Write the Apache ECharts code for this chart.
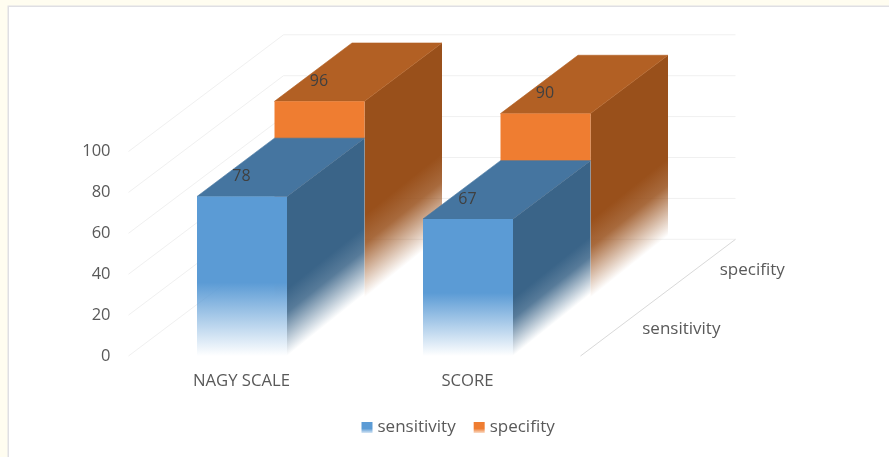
<!DOCTYPE html>
<html>
<head>
<meta charset="utf-8">
<style>html,body{margin:0;padding:0;background:#fffdf0}#c{width:889px;height:457px}</style>
<script src="https://cdn.jsdelivr.net/npm/echarts@6/dist/echarts.min.js"></script>
</head>
<body>
<div id="c"></div>
<script>
const categories = ['NAGY SCALE', 'SCORE'];
const sensitivity = [78, 67];
const specifity = [96, 90];
const depthLabels = ['sensitivity', 'specifity'];
const valueTicks = [0, 20, 40, 60, 80, 100];

// Oblique projection: moving from the front plane to the back wall shifts a point by this much.
const DEPTH_DX = 155;
const DEPTH_DY = 116.7;
const BAR_RATIO = 0.398;
const FADE_SLOPE = 0.8;
const FONT = '"Open Sans", sans-serif';
const TEXT = '#595959';

function project(p, d) {
  return [p[0] + DEPTH_DX * d, p[1] - DEPTH_DY * d];
}

function rgba(c, a) {
  return 'rgba(' + c.join(',') + ',' + a + ')';
}

// Fades a colour out towards (x2,y2); alphaStops shape the ramp.
function fade(c, x, y, x2, y2, alphaStops) {
  return {
    type: 'linear', global: true, x: x, y: y, x2: x2, y2: y2,
    colorStops: alphaStops.map(s => ({ offset: s[0], color: rgba(c, s[1]) }))
  };
}

function barRenderer(slot, palette, underlay) {
  return function (params, api) {
    const cat = api.value(0);
    const val = api.value(1);
    const top = api.coord([cat, val]);
    const base = api.coord([cat, 0]);
    const w = Math.round(api.size([1, 0])[0] * BAR_RATIO);
    const d0 = slot * 0.5;
    const d1 = d0 + 0.5;
    const l = Math.round(top[0] - w / 2);
    const r = l + w;
    const h = base[1] - top[1];
    const fadeFront = h * 0.46;
    const fadeSide = h * 0.42;

    const pt = (x, y, d) => project([x, y], d);
    const ftl = pt(l, top[1], d0), ftr = pt(r, top[1], d0);
    const fbl = pt(l, base[1], d0), fbr = pt(r, base[1], d0);
    const btl = pt(l, top[1], d1), btr = pt(r, top[1], d1);
    const bbr = pt(r, base[1], d1);

    // Side fade is tilted along the receding floor edge.
    const len = Math.hypot(1, FADE_SLOPE);
    const nx = FADE_SLOPE / len, ny = 1 / len;
    const reach = fadeSide * ny;
    const sideFill = fade(
      palette.side,
      fbr[0] - nx * reach, fbr[1] - ny * reach, fbr[0], fbr[1],
      [[0, 1], [0.35, 0.85], [1, 0]]
    );

    const children = [];
    if (underlay) {
      children.push({
        type: 'polygon', shape: { points: [ftr, btr, bbr, fbr] },
        style: { fill: '#fff' }
      });
    }
    children.push(
      {
        type: 'polygon', shape: { points: [ftr, btr, bbr, fbr] },
        style: { fill: sideFill }
      },
      {
        type: 'polygon', shape: { points: [ftl, btl, btr, ftr] },
        style: { fill: rgba(palette.top, 1), stroke: rgba(palette.top, 1), lineWidth: 0.6 }
      },
      {
        type: 'polygon', shape: { points: [ftl, ftr, fbr, fbl] },
        style: { fill: fade(palette.front, l, fbl[1] - fadeFront, l, fbl[1], [[0, 1], [1, 0]]) }
      },
      {
        type: 'text',
        style: {
          text: String(val), x: top[0] + DEPTH_DX * d0, y: ftl[1] - 20,
          align: 'center', verticalAlign: 'middle',
          fill: '#404040', font: '16px ' + FONT
        }
      }
    );
    return { type: 'group', children: children };
  };
}

function renderGridLine(params, api) {
  const box = params.coordSys;
  const v = api.value(1);
  const front = api.coord([0, v])[1];
  const a = [box.x, front];
  const b = project(a, 1);
  const c = [box.x + box.width + DEPTH_DX, b[1]];
  return {
    type: 'polyline', shape: { points: [a, b, c] },
    style: { stroke: '#f0f0f0', lineWidth: 1, fill: null }
  };
}

function renderFloorEdge(params, api) {
  const box = params.coordSys;
  const y = api.coord([0, 0])[1];
  const a = [box.x + box.width, y];
  return {
    type: 'line',
    shape: { x1: a[0], y1: a[1], x2: a[0] + DEPTH_DX, y2: a[1] - DEPTH_DY },
    style: { stroke: '#d9d9d9', lineWidth: 1 }
  };
}

function renderDepthLabel(params, api) {
  const box = params.coordSys;
  const y = api.coord([0, 0])[1];
  const p = project([box.x + box.width, y], (params.dataIndex + 0.5) / depthLabels.length);
  return {
    type: 'text',
    style: {
      text: depthLabels[params.dataIndex], x: p[0] + 23, y: p[1] + 2,
      align: 'left', verticalAlign: 'middle', fill: TEXT, font: '17px ' + FONT
    }
  };
}

const blue = { front: [91, 155, 213], top: [69, 117, 160], side: [58, 100, 136] };
const orange = { front: [239, 125, 49], top: [178, 96, 36], side: [153, 80, 27] };

const chart = echarts.init(document.getElementById('c'), null, { renderer: 'canvas' });
chart.setOption({
  animation: false,
  backgroundColor: '#fffdf0',
  graphic: [{
    type: 'rect', silent: true, z: -10,
    shape: { x: 8.25, y: 6.25, width: 900, height: 470 },
    style: { fill: '#ffffff', stroke: '#dfdfe3', lineWidth: 1.5 }
  }],
  grid: { left: 128.5, top: 151.5, width: 452, height: 204.5 },
  legend: {
    left: 356.5, top: 414, itemWidth: 11, itemHeight: 11, itemGap: 18,
    selectedMode: false,
    textStyle: { color: TEXT, fontFamily: FONT, fontSize: 17 },
    data: [
      { name: 'sensitivity', icon: 'rect', itemStyle: { color: { type: 'linear', x: 0, y: 0, x2: 0, y2: 1, colorStops: [{ offset: 0, color: '#5b9bd5' }, { offset: 0.6, color: '#5b9bd5' }, { offset: 1, color: '#d5e5f4' }] } } },
      { name: 'specifity', icon: 'rect', itemStyle: { color: { type: 'linear', x: 0, y: 0, x2: 0, y2: 1, colorStops: [{ offset: 0, color: '#ef7d31' }, { offset: 0.6, color: '#ef7d31' }, { offset: 1, color: '#fadcc8' }] } } }
    ]
  },
  xAxis: {
    type: 'category', data: categories,
    axisLine: { show: false }, axisTick: { show: false },
    axisLabel: { color: TEXT, fontFamily: FONT, fontSize: 16.7, margin: 17 }
  },
  yAxis: {
    type: 'value', min: 0, max: 100, interval: 20,
    axisLine: { show: false }, axisTick: { show: false }, splitLine: { show: false },
    axisLabel: { color: TEXT, fontFamily: FONT, fontSize: 16.5, margin: 18 }
  },
  series: [
    {
      name: 'gridlines', type: 'custom', silent: true, z: 1,
      data: valueTicks.map(v => [0, v]), renderItem: renderGridLine
    },
    {
      name: 'floor edge', type: 'custom', silent: true, z: 1,
      data: [[0, 0]], renderItem: renderFloorEdge
    },
    {
      name: 'depth labels', type: 'custom', silent: true, z: 1,
      data: depthLabels.map(() => [0, 0]), renderItem: renderDepthLabel
    },
    {
      name: 'sensitivity', type: 'custom', z: 4, silent: true,
      itemStyle: { color: '#5b9bd5' },
      data: sensitivity.map((v, i) => [i, v]),
      renderItem: barRenderer(0, blue, true)
    },
    {
      name: 'specifity', type: 'custom', z: 3, silent: true,
      itemStyle: { color: '#ef7d31' },
      data: specifity.map((v, i) => [i, v]),
      renderItem: barRenderer(1, orange, false)
    }
  ]
});
</script>
</body>
</html>
